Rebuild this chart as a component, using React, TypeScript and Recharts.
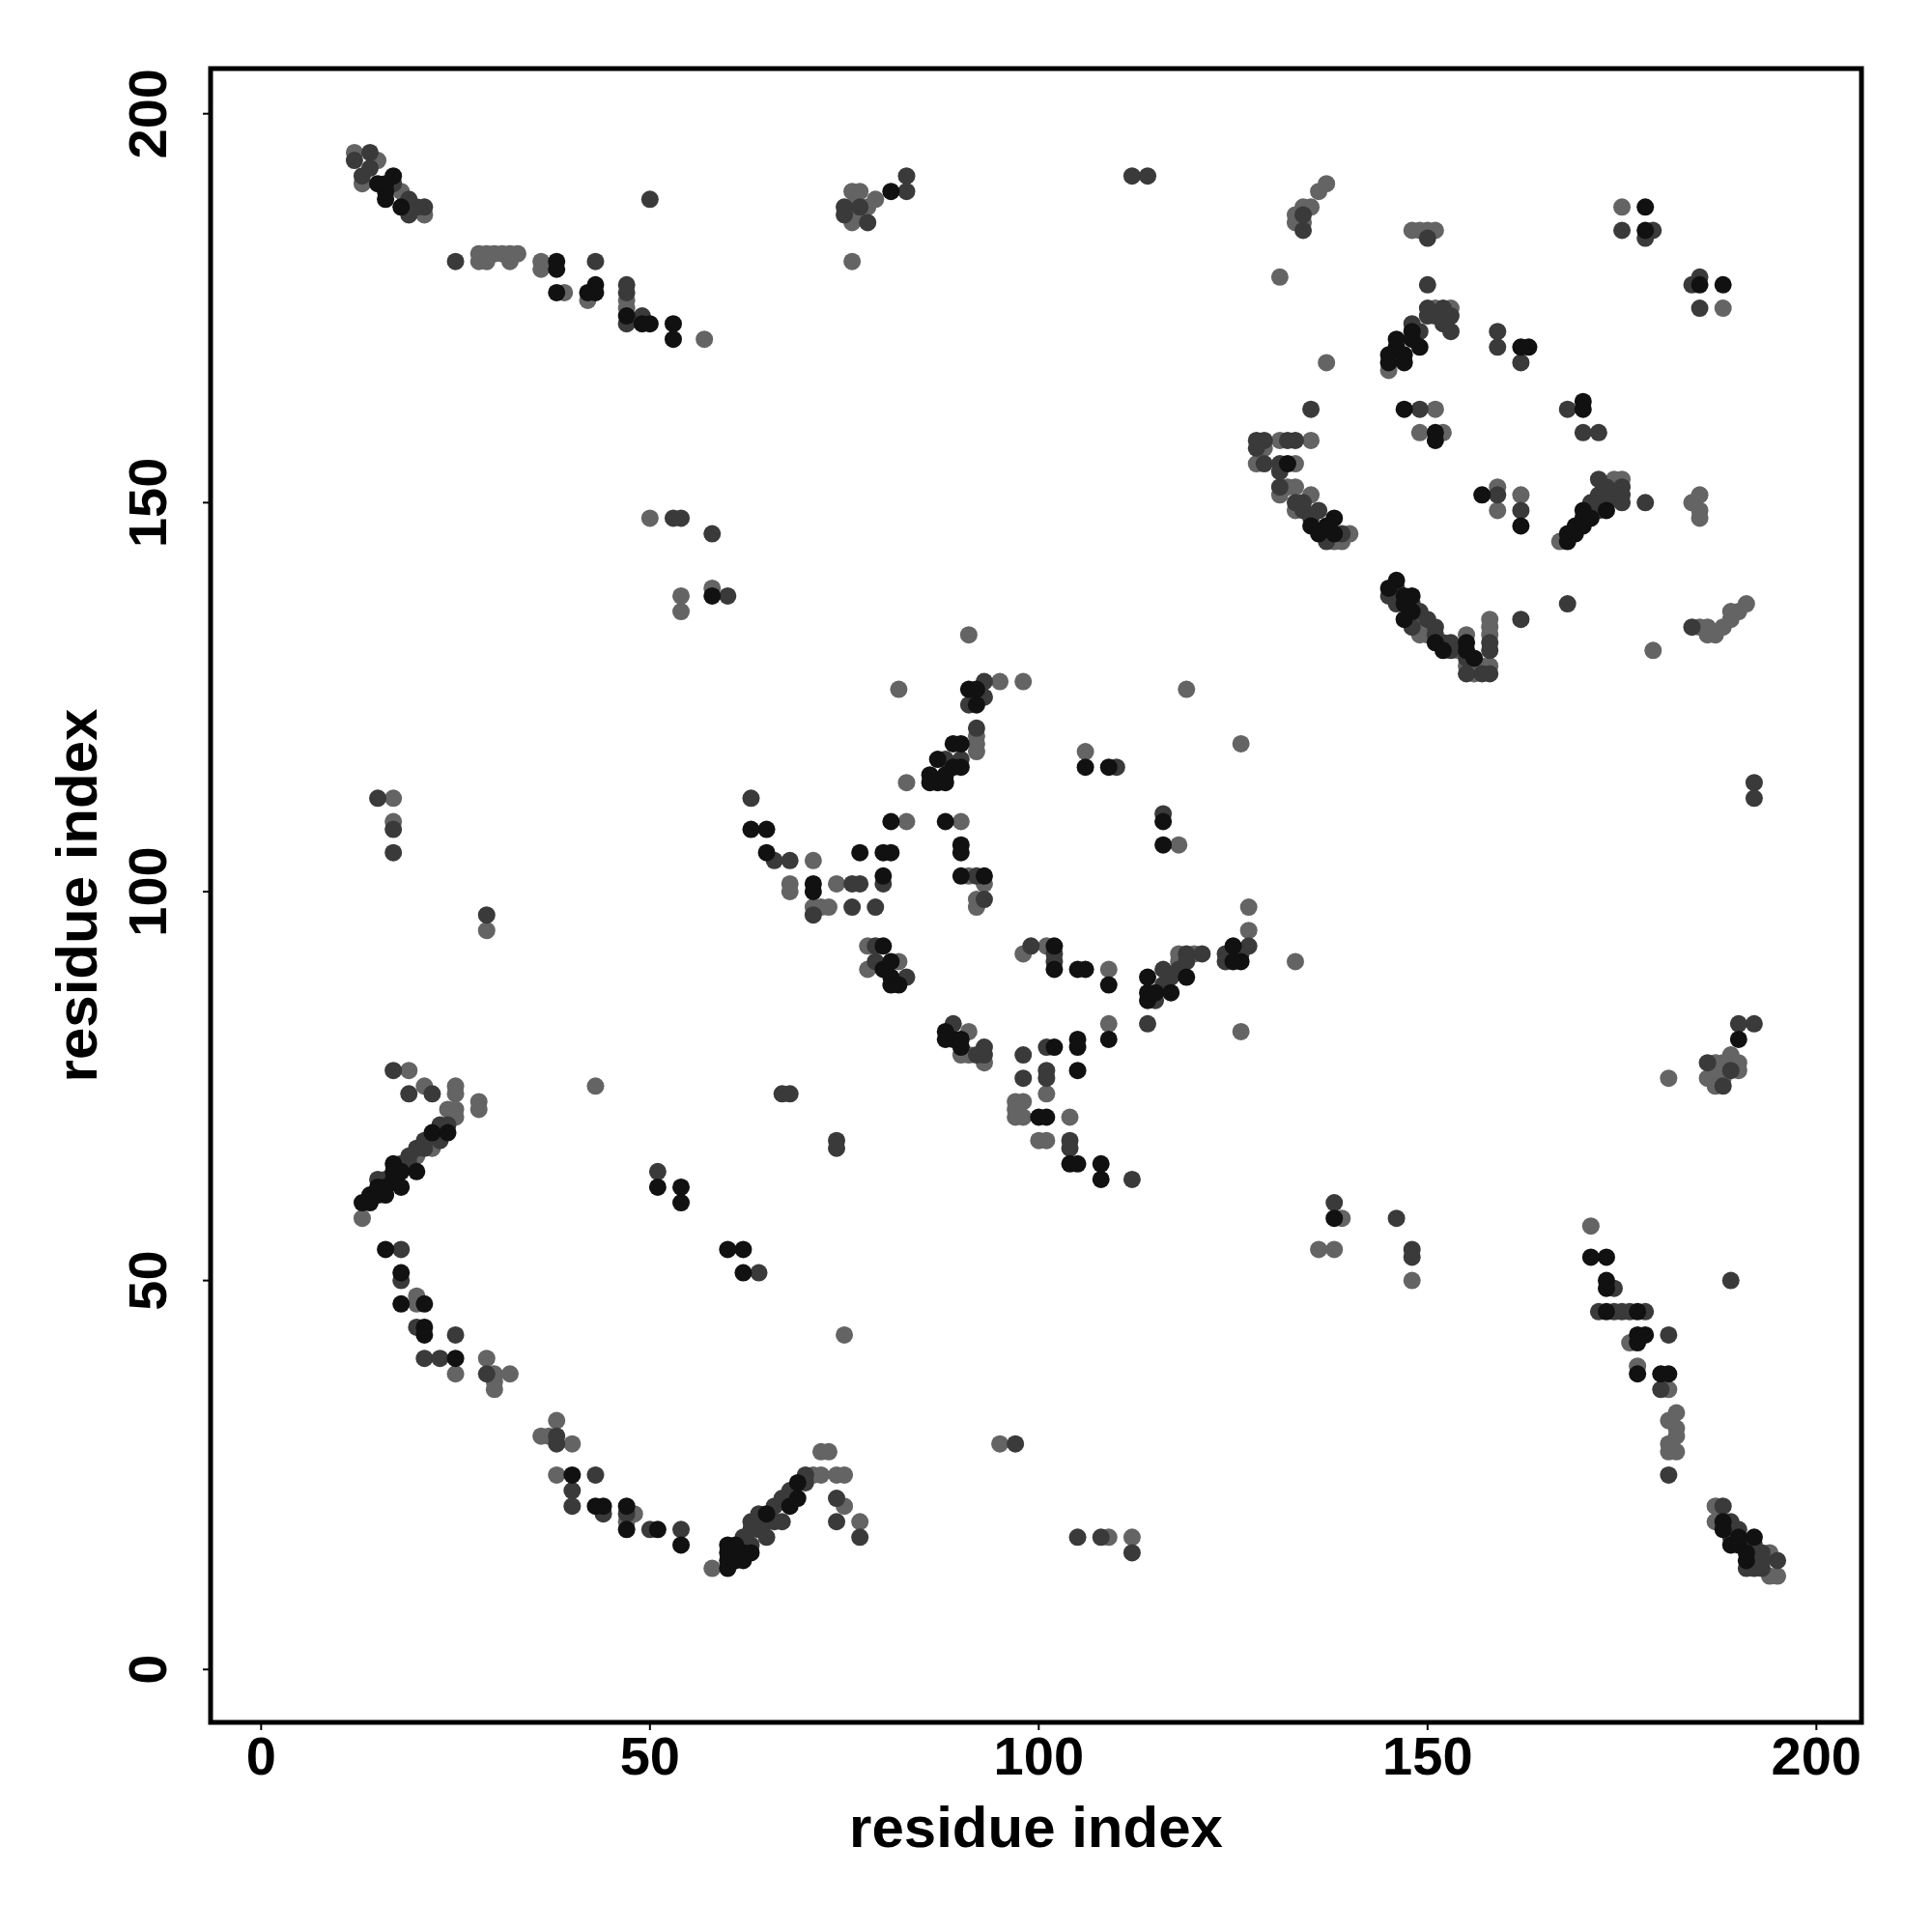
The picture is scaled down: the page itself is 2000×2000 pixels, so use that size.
import { ScatterChart, Scatter, XAxis, YAxis, ReferenceArea, Label } from "recharts"

// contact map, residue i vs residue j, three shade levels
const blackContacts: [number, number][] = [
  [15, 191], [17, 192], [16, 190], [16, 189], [18, 188], [16, 191],
  [38, 181], [38, 180], [38, 177], [42, 177], [43, 178], [43, 177], [47, 174], [49, 173], [50, 173], [53, 173], [53, 171], [58, 138],
  [81, 190],
  [178, 188], [178, 185], [185, 178], [188, 178],
  [145, 169], [145, 168], [146, 170], [146, 171], [147, 168], [147, 169], [148, 172], [148, 171], [149, 170],
  [162, 170], [163, 170], [170, 163], [170, 162], [147, 162], [151, 159], [151, 158], [157, 151], [162, 147],
  [168, 146], [168, 145], [169, 146], [169, 147], [170, 147], [170, 148], [170, 149], [171, 148], [173, 149],
  [132, 155], [138, 148], [135, 147], [136, 146], [138, 146], [137, 147],
  [146, 140], [145, 139], [148, 138], [147, 138], [147, 137], [147, 135], [148, 136], [151, 132], [155, 132], [155, 131], [156, 130], [152, 131],
  [190, 81],
  [91, 126], [92, 124], [92, 126], [89, 119], [90, 119], [87, 117], [90, 116], [89, 116], [86, 115], [86, 114], [87, 114], [88, 114], [88, 115],
  [106, 116], [109, 116], [116, 109], [116, 106], [65, 108], [81, 109], [88, 109], [65, 105], [77, 105], [80, 105], [81, 105], [90, 106], [90, 105],
  [71, 101], [71, 100], [80, 102], [90, 102], [93, 102], [80, 93], [81, 91], [80, 90], [81, 89], [81, 88], [82, 88],
  [102, 93], [102, 90], [105, 90], [106, 90], [109, 88], [114, 89], [114, 87], [114, 86], [115, 87], [117, 87], [119, 89], [125, 93], [126, 91], [125, 91],
  [109, 81], [88, 82], [88, 81], [89, 81], [90, 80], [90, 81], [102, 80], [105, 81], [105, 80], [105, 77], [100, 71], [101, 71],
  [104, 65], [105, 65], [108, 65], [108, 63], [63, 108],
  [13, 60], [14, 61], [14, 60], [15, 61], [15, 62], [16, 62], [16, 61], [17, 64], [17, 63], [18, 64], [18, 62], [17, 65], [20, 64], [22, 69], [24, 69],
  [16, 54], [18, 51], [18, 47], [21, 47], [21, 44], [21, 43], [25, 40], [40, 25], [43, 21], [44, 21], [47, 21], [47, 18], [51, 18], [54, 16],
  [60, 54], [62, 54], [62, 51], [51, 62], [54, 62], [54, 60],
  [60, 13], [60, 14], [60, 15], [60, 16], [61, 14], [61, 15], [62, 14], [62, 15], [63, 15], [61, 16], [65, 20], [68, 21], [69, 22], [69, 24],
  [138, 58], [171, 53], [173, 53], [173, 50], [173, 49], [173, 46], [177, 46], [177, 43], [178, 43], [177, 42], [177, 38], [180, 38], [181, 38],
  [188, 19], [188, 18], [189, 16], [190, 16], [192, 17], [191, 14], [190, 17], [191, 15],
]

const darkContacts: [number, number][] = [
  [12, 194], [14, 195], [13, 192], [19, 189], [19, 187], [21, 188], [17, 191], [14, 193], [20, 188],
  [25, 181], [43, 181], [47, 178], [47, 177], [47, 173], [49, 174], [50, 189], [53, 148], [54, 148], [58, 146], [60, 138],
  [75, 188], [75, 187], [78, 186], [83, 192], [83, 190], [77, 188], [112, 192], [114, 192],
  [134, 187], [134, 185], [150, 184], [175, 185], [179, 185], [178, 184], [184, 178], [185, 179], [185, 175], [150, 178],
  [149, 172], [150, 175], [150, 174], [151, 174], [152, 175], [152, 173], [153, 174], [153, 172], [148, 173],
  [159, 172], [159, 170], [162, 168], [168, 162], [170, 159], [172, 159], [149, 162], [159, 151], [162, 149],
  [171, 150], [172, 149], [172, 151], [172, 153], [173, 150], [173, 152], [174, 151], [175, 152], [175, 151], [175, 150], [178, 150],
  [135, 162], [128, 158], [129, 158], [132, 158], [133, 158], [128, 157], [129, 155], [131, 155], [131, 154], [131, 152], [133, 150],
  [134, 149], [136, 149], [137, 146], [137, 145], [134, 150], [135, 148], [139, 146],
  [145, 138], [146, 139], [146, 137], [148, 137], [149, 136], [150, 135], [151, 134], [151, 133], [152, 132], [153, 132], [153, 131],
  [155, 130], [158, 132], [158, 131], [157, 128], [158, 128], [162, 135], [155, 128], [148, 134],
  [168, 137], [184, 134], [192, 114], [192, 112], [190, 83], [192, 83], [186, 78], [189, 77], [188, 75],
  [93, 127], [91, 124], [93, 125], [92, 125], [92, 121], [88, 117], [90, 117], [110, 116], [116, 110], [66, 104], [68, 104],
  [76, 101], [77, 101], [80, 101], [71, 97], [76, 98], [79, 98], [92, 102], [93, 99], [79, 93], [79, 91], [83, 89],
  [99, 93], [102, 92], [102, 91], [115, 86], [116, 90], [116, 88], [117, 89], [118, 90], [119, 92], [119, 91], [121, 92],
  [124, 92], [124, 91], [127, 93], [126, 92], [114, 83], [89, 83], [93, 80], [93, 79], [92, 79], [98, 79], [98, 76],
  [101, 77], [101, 76], [101, 80], [104, 68], [104, 67], [112, 63], [67, 74], [68, 74], [74, 68], [74, 67], [63, 112],
  [15, 112], [17, 108], [17, 105], [29, 97], [17, 77], [19, 74], [22, 74], [15, 63], [16, 63], [18, 65], [19, 66], [19, 65],
  [20, 67], [21, 68], [23, 70], [23, 68], [21, 67], [24, 70], [51, 64],
  [18, 54], [18, 50], [20, 44], [25, 43], [21, 40], [23, 40], [29, 38], [38, 30], [38, 29], [43, 25], [40, 23], [40, 21],
  [44, 20], [47, 20], [50, 18], [54, 18], [64, 51],
  [62, 17], [63, 16], [63, 18], [63, 19], [64, 18], [64, 20], [65, 17], [65, 19], [66, 19], [66, 21], [67, 19], [67, 22],
  [68, 23], [70, 24], [70, 25], [74, 22], [74, 19], [77, 17],
  [97, 29], [105, 17], [108, 17], [112, 15],
  [138, 60], [146, 58], [148, 54], [148, 53], [174, 49], [172, 46], [174, 46], [175, 46], [176, 46], [178, 46], [189, 50],
  [181, 43], [180, 36], [181, 25], [188, 21], [189, 19], [189, 17], [190, 18], [191, 16], [192, 16], [191, 13], [192, 13],
  [193, 15], [195, 14], [193, 13], [193, 14],
]

const greyContacts: [number, number][] = [
  [12, 195], [15, 194], [13, 191], [18, 190], [21, 187],
  [28, 182], [29, 182], [30, 182], [31, 182], [32, 182], [33, 182], [28, 181], [29, 181], [32, 181], [36, 181], [36, 180],
  [39, 177], [42, 176], [47, 176], [47, 175], [57, 171], [50, 148], [54, 138], [54, 136], [58, 139],
  [76, 190], [76, 186], [77, 190], [78, 188], [79, 189], [76, 181], [76, 188], [76, 187], [77, 187], [131, 179],
  [133, 187], [133, 186], [134, 188], [135, 188], [136, 190], [137, 191], [134, 186], [148, 185], [149, 185], [150, 185], [151, 185],
  [175, 188], [188, 175], [137, 168],
  [145, 167], [151, 175], [153, 175], [152, 174],
  [151, 162], [149, 159], [152, 159], [159, 152], [159, 149], [162, 151],
  [167, 145], [174, 153], [175, 153], [184, 150], [185, 151], [185, 149], [185, 148],
  [131, 158], [135, 158], [129, 157], [128, 155], [133, 155], [132, 152], [133, 152], [131, 151], [135, 151], [133, 149],
  [140, 146], [138, 145], [139, 145],
  [149, 133], [150, 133], [149, 135], [154, 131], [155, 133], [155, 129], [156, 128], [157, 129], [158, 129], [158, 133], [158, 134], [158, 135],
  [179, 131], [185, 134], [186, 134], [186, 133], [187, 133], [188, 134], [189, 135], [189, 136], [190, 136], [191, 137],
  [187, 78], [188, 78], [189, 79], [190, 78], [186, 76], [187, 75], [188, 76], [190, 77], [187, 77], [181, 76],
  [91, 133], [82, 126], [98, 127], [95, 127], [119, 126], [126, 119], [92, 120], [92, 119], [92, 118], [83, 114], [106, 118],
  [118, 106], [83, 109], [90, 109], [71, 104], [68, 101], [68, 100], [74, 101], [71, 98], [72, 98], [73, 98], [91, 102],
  [93, 101], [92, 99], [92, 98], [78, 93], [78, 90], [82, 91], [98, 92], [101, 93], [109, 90], [118, 91], [118, 92], [120, 92],
  [127, 95], [127, 98], [133, 91], [109, 83], [126, 82], [91, 82], [91, 79], [93, 78], [90, 79], [101, 74], [97, 73], [98, 73],
  [97, 72], [97, 71], [98, 71], [104, 71], [100, 68], [101, 68],
  [17, 112], [17, 109], [29, 95], [19, 77], [21, 75], [25, 75], [25, 74], [24, 72], [25, 72], [25, 71], [28, 73], [28, 72],
  [43, 75], [13, 58], [20, 66], [22, 67],
  [20, 48], [20, 47], [25, 38], [29, 40], [30, 38], [30, 36], [30, 37], [32, 38], [38, 32], [36, 30], [40, 29], [37, 30],
  [38, 25], [48, 20], [47, 19],
  [58, 13], [71, 25], [72, 25], [72, 28], [73, 28], [74, 25], [75, 25], [75, 21], [77, 19],
  [75, 43], [95, 29], [109, 17], [112, 17],
  [139, 58], [136, 54], [138, 54], [148, 50], [171, 57], [176, 42], [177, 39], [181, 36], [182, 33], [181, 32], [182, 31],
  [182, 30], [181, 29], [182, 28], [181, 28], [187, 21], [187, 19], [194, 15], [194, 12], [195, 12],
]

const axisTicks = [0, 50, 100, 150, 200]
const axisTitle = "residue index"

const X_DOMAIN: [number, number] = [-6.5, 205.8]
const Y_DOMAIN: [number, number] = [-6.8, 205.8]

const W = 1984
const H = 1984
const PLOT_LEFT = 210
const PLOT_TOP = 63
const PLOT_W = 1709
const PLOT_H = 1712
const FONT = '"Liberation Sans", Arial, Helvetica, sans-serif'

const toPoints = (pairs: [number, number][]) => pairs.map(([i, j]) => ({ i, j }))

const dot = (fill: string) => (props: any) => <circle cx={props.cx} cy={props.cy} r={9} fill={fill} />

function YTick(props: any) {
  const { x, y, payload } = props
  return (
    <text
      x={x}
      y={y}
      transform={`rotate(-90, ${x}, ${y})`}
      textAnchor="middle"
      fontFamily={FONT}
      fontWeight="bold"
      fontSize={56}
      fill="#000"
    >
      {payload.value}
    </text>
  )
}

export default function App() {
  const xTitleX = PLOT_LEFT + PLOT_W / 2
  const xTitleY = PLOT_TOP + PLOT_H + 129
  const yTitleX = 92
  const yTitleY = PLOT_TOP + PLOT_H / 2

  return (
    <div style={{ width: W, height: H, background: "#fff" }}>
      <ScatterChart
        width={W}
        height={H}
        margin={{ top: PLOT_TOP, right: W - PLOT_LEFT - PLOT_W, bottom: H - PLOT_TOP - PLOT_H - 150, left: PLOT_LEFT - 150 }}
      >
        <XAxis
          type="number"
          dataKey="i"
          domain={X_DOMAIN}
          allowDataOverflow
          ticks={axisTicks}
          height={150}
          axisLine={false}
          tickSize={8}
          tickMargin={6}
          tickLine={{ stroke: "#000", strokeWidth: 2 }}
          tick={{ fill: "#000", fontSize: 56, fontWeight: "bold", fontFamily: FONT }}
        >
          <Label
            content={() => (
              <text x={xTitleX} y={xTitleY} textAnchor="middle" fontFamily={FONT} fontWeight="bold" fontSize={60} fill="#000">
                {axisTitle}
              </text>
            )}
          />
        </XAxis>
        <YAxis
          type="number"
          dataKey="j"
          domain={Y_DOMAIN}
          allowDataOverflow
          ticks={axisTicks}
          width={150}
          axisLine={false}
          tickSize={8}
          tickMargin={38}
          tickLine={{ stroke: "#000", strokeWidth: 2 }}
          tick={<YTick />}
        >
          <Label
            content={() => (
              <text
                x={yTitleX}
                y={yTitleY}
                transform={`rotate(-90, ${yTitleX}, ${yTitleY})`}
                textAnchor="middle"
                fontFamily={FONT}
                fontWeight="bold"
                fontSize={60}
                fill="#000"
              >
                {axisTitle}
              </text>
            )}
          />
        </YAxis>
        <Scatter data={toPoints(greyContacts)} shape={dot("#646464")} isAnimationActive={false} />
        <Scatter data={toPoints(darkContacts)} shape={dot("#3a3a3a")} isAnimationActive={false} />
        <Scatter data={toPoints(blackContacts)} shape={dot("#111111")} isAnimationActive={false} />
        <ReferenceArea
          x1={X_DOMAIN[0]}
          x2={X_DOMAIN[1]}
          y1={Y_DOMAIN[0]}
          y2={Y_DOMAIN[1]}
          fill="none"
          fillOpacity={0}
          stroke="#000"
          strokeWidth={5}
        />
      </ScatterChart>
    </div>
  )
}
